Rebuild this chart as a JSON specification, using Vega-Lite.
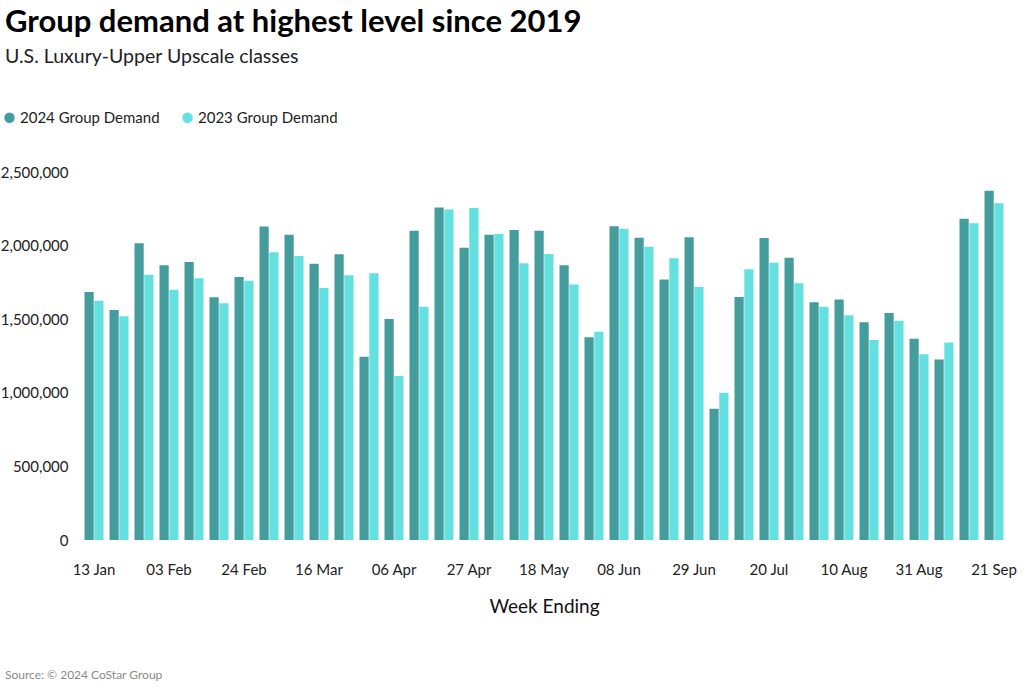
{
  "$schema": "https://vega.github.io/schema/vega-lite/v6.json",
  "width": 924,
  "height": 368,
  "autosize": {"type": "none"},
  "padding": {"left": 82, "top": 172, "right": 18, "bottom": 149},
  "background": "white",
  "config": {"view": {"stroke": null}, "font": "Lato"},
  "title": {
    "text": "Group demand at highest level since 2019",
    "subtitle": "U.S. Luxury-Upper Upscale classes",
    "anchor": "start",
    "frame": "group",
    "dx": -77,
    "offset": 43,
    "fontSize": 31,
    "fontWeight": "bold",
    "color": "#000000",
    "subtitleFontSize": 19.5,
    "subtitleColor": "#222222",
    "subtitlePadding": 9,
    "font": "Lato",
    "subtitleFont": "Lato"
  },
  "layer": [
    {
      "data": {
        "values": [
          {"week": "13 Jan", "2024 Group Demand": 1685000, "2023 Group Demand": 1626000},
          {"week": "20 Jan", "2024 Group Demand": 1563000, "2023 Group Demand": 1520000},
          {"week": "27 Jan", "2024 Group Demand": 2016000, "2023 Group Demand": 1802000},
          {"week": "03 Feb", "2024 Group Demand": 1866000, "2023 Group Demand": 1700000},
          {"week": "10 Feb", "2024 Group Demand": 1889000, "2023 Group Demand": 1778000},
          {"week": "17 Feb", "2024 Group Demand": 1649000, "2023 Group Demand": 1608000},
          {"week": "24 Feb", "2024 Group Demand": 1787000, "2023 Group Demand": 1762000},
          {"week": "02 Mar", "2024 Group Demand": 2129000, "2023 Group Demand": 1954000},
          {"week": "09 Mar", "2024 Group Demand": 2074000, "2023 Group Demand": 1929000},
          {"week": "16 Mar", "2024 Group Demand": 1877000, "2023 Group Demand": 1712000},
          {"week": "23 Mar", "2024 Group Demand": 1941000, "2023 Group Demand": 1798000},
          {"week": "30 Mar", "2024 Group Demand": 1245000, "2023 Group Demand": 1812000},
          {"week": "06 Apr", "2024 Group Demand": 1501000, "2023 Group Demand": 1114000},
          {"week": "13 Apr", "2024 Group Demand": 2101000, "2023 Group Demand": 1585000},
          {"week": "20 Apr", "2024 Group Demand": 2258000, "2023 Group Demand": 2246000},
          {"week": "27 Apr", "2024 Group Demand": 1986000, "2023 Group Demand": 2255000},
          {"week": "04 May", "2024 Group Demand": 2074000, "2023 Group Demand": 2079000},
          {"week": "11 May", "2024 Group Demand": 2106000, "2023 Group Demand": 1880000},
          {"week": "18 May", "2024 Group Demand": 2101000, "2023 Group Demand": 1943000},
          {"week": "25 May", "2024 Group Demand": 1866000, "2023 Group Demand": 1735000},
          {"week": "01 Jun", "2024 Group Demand": 1377000, "2023 Group Demand": 1415000},
          {"week": "08 Jun", "2024 Group Demand": 2131000, "2023 Group Demand": 2115000},
          {"week": "15 Jun", "2024 Group Demand": 2054000, "2023 Group Demand": 1993000},
          {"week": "22 Jun", "2024 Group Demand": 1769000, "2023 Group Demand": 1914000},
          {"week": "29 Jun", "2024 Group Demand": 2056000, "2023 Group Demand": 1719000},
          {"week": "06 Jul", "2024 Group Demand": 892000, "2023 Group Demand": 1001000},
          {"week": "13 Jul", "2024 Group Demand": 1651000, "2023 Group Demand": 1839000},
          {"week": "20 Jul", "2024 Group Demand": 2052000, "2023 Group Demand": 1884000},
          {"week": "27 Jul", "2024 Group Demand": 1918000, "2023 Group Demand": 1744000},
          {"week": "03 Aug", "2024 Group Demand": 1615000, "2023 Group Demand": 1585000},
          {"week": "10 Aug", "2024 Group Demand": 1633000, "2023 Group Demand": 1527000},
          {"week": "17 Aug", "2024 Group Demand": 1479000, "2023 Group Demand": 1359000},
          {"week": "24 Aug", "2024 Group Demand": 1542000, "2023 Group Demand": 1490000},
          {"week": "31 Aug", "2024 Group Demand": 1368000, "2023 Group Demand": 1262000},
          {"week": "07 Sep", "2024 Group Demand": 1227000, "2023 Group Demand": 1341000},
          {"week": "14 Sep", "2024 Group Demand": 2183000, "2023 Group Demand": 2151000},
          {"week": "21 Sep", "2024 Group Demand": 2373000, "2023 Group Demand": 2287000}
        ]
      },
      "transform": [
        {"fold": ["2024 Group Demand", "2023 Group Demand"], "as": ["series", "value"]}
      ],
      "mark": {"type": "bar"},
      "encoding": {
        "x": {
          "field": "week",
          "type": "nominal",
          "sort": null,
          "scale": {"paddingInner": 0.24, "paddingOuter": 0.1},
          "axis": {
            "values": ["13 Jan", "03 Feb", "24 Feb", "16 Mar", "06 Apr", "27 Apr", "18 May", "08 Jun", "29 Jun", "20 Jul", "10 Aug", "31 Aug", "21 Sep"],
            "labelAngle": 0,
            "ticks": false,
            "domain": false,
            "labelPadding": 22,
            "labelFontSize": 15,
            "labelColor": "#222222",
            "title": "Week Ending",
            "titleFontSize": 19,
            "titleFontWeight": "normal",
            "titleColor": "#111111",
            "titlePadding": 20
          }
        },
        "xOffset": {
          "field": "series",
          "type": "nominal",
          "sort": ["2024 Group Demand", "2023 Group Demand"],
          "scale": {"paddingInner": 0.06}
        },
        "y": {
          "field": "value",
          "type": "quantitative",
          "scale": {"domain": [0, 2500000]},
          "axis": {
            "values": [0, 500000, 1000000, 1500000, 2000000, 2500000],
            "format": ",d",
            "grid": false,
            "ticks": false,
            "domain": false,
            "labelPadding": 14,
            "labelFontSize": 15,
            "labelColor": "#222222",
            "title": null
          }
        },
        "color": {
          "field": "series",
          "type": "nominal",
          "scale": {
            "domain": ["2024 Group Demand", "2023 Group Demand"],
            "range": ["#449c9c", "#64e0e0"]
          },
          "legend": {
            "title": null,
            "orient": "none",
            "direction": "horizontal",
            "legendX": -80,
            "legendY": -62,
            "symbolType": "circle",
            "symbolSize": 110,
            "labelFontSize": 15,
            "labelColor": "#222222",
            "columnPadding": 20,
            "symbolOffset": 0,
            "labelOffset": 3
          }
        }
      }
    },
    {
      "data": {"values": [{"t": "Source: © 2024 CoStar Group"}]},
      "mark": {"type": "text", "align": "left", "baseline": "middle", "fontSize": 12, "color": "#8a8a8a", "font": "Lato"},
      "encoding": {
        "text": {"field": "t"},
        "x": {"value": -77},
        "y": {"value": 503}
      }
    }
  ]
}
